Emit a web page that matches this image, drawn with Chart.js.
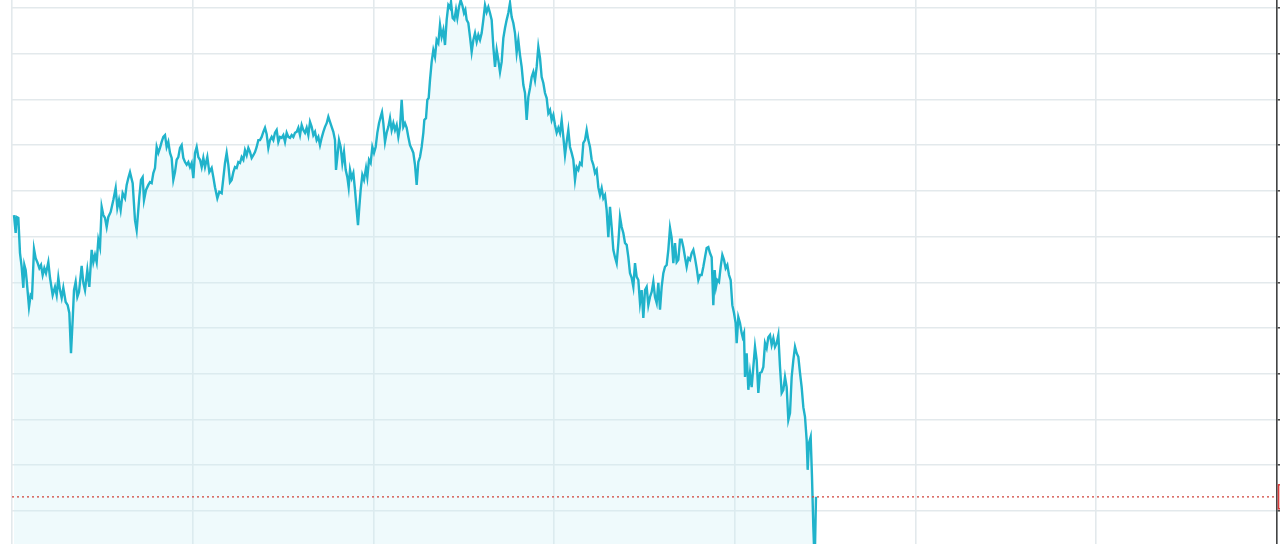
<!DOCTYPE html>
<html>
<head>
<meta charset="utf-8">
<script src="https://cdn.jsdelivr.net/npm/chart.js@4.4.1/dist/chart.umd.min.js"></script>
<style>
  html, body { margin: 0; padding: 0; background: #ffffff; overflow: hidden; }
  #wrap { position: relative; width: 1280px; height: 544px; }
</style>
</head>
<body>
<div id="wrap"><canvas id="c" width="1280" height="544"></canvas></div>
<script>
// ---- data ----
const days = [
1.2,2.2,2.8,3.8,4.8,5.8,6.8,7.4,8.2,8.8,
10.2,11.2,12.0,13.2,14.2,15.2,16.4,17.4,18.4,19.4,
20.4,21.8,22.8,24.4,25.8,26.8,27.8,28.8,29.8,30.8,
32.2,33.4,34.4,35.4,36.4,37.2,38.2,39.2,40.2,41.8,
42.8,43.8,45.2,46.4,47.8,48.8,49.8,50.8,51.8,52.8,
53.8,54.8,55.8,56.8,57.8,59.2,60.8,62.2,63.2,64.2,
65.2,66.4,67.8,68.8,69.8,70.8,72.4,73.8,74.8,76.4,
77.4,78.4,79.2,80.4,81.8,82.8,83.8,84.8,85.8,86.8,
87.8,88.8,89.8,90.8,91.8,92.8,93.8,94.8,95.8,96.8,
97.8,98.8,99.8,100.8,101.8,102.8,103.8,104.8,105.8,106.8,
107.8,108.8,109.8,110.8,111.8,112.8,113.8,114.8,115.8,117.2,
118.4,119.8,120.8,121.8,123.2,124.4,125.8,126.8,127.8,128.8,
129.8,130.8,131.8,132.8,133.8,134.8,135.8,136.8,137.8,138.8,
139.8,140.8,141.8,142.8,143.8,144.8,145.8,146.8,147.8,148.8,
149.8,150.8,151.8,152.8,153.8,154.8,155.8,156.8,157.8,158.8,
159.8,160.8,161.8,162.8,163.8,164.8,165.8,166.8,167.8,168.8,
169.8,170.8,171.8,172.8,173.8,174.8,175.8,176.8,177.8,178.8,
179.8,180.8,181.8,182.8,183.8,184.8,185.8,186.8,187.8,188.8,
189.8,190.8,191.8,192.8,193.8,194.4,195.2,196.2,197.2,198.2,
199.2,200.2,201.2,202.0,202.8,203.8,204.8,205.8,206.8,207.6,
208.4,209.2,210.2,211.2,212.4,213.2,214.2,215.2,216.2,217.2,
218.2,219.2,220.2,221.2,222.0,222.8,223.8,224.8,225.8,226.8,
227.8,228.8,229.8,230.8,231.8,232.8,233.8,234.8,235.8,236.8,
237.8,238.8,239.8,240.8,241.8,242.8,243.8,244.8,245.8,246.8,
247.4,248.4,249.2,250.0,250.8,251.8,252.8,253.8,254.8,255.8,
256.8,257.8,258.8,259.8,260.8,261.8,262.8,263.4,264.4,265.4,
266.4,267.2,268.2,269.2,270.2,271.2,272.0,272.8,273.8,274.8,
275.8,276.8,277.8,278.8,279.8,280.8,281.8,282.8,283.8,284.8,
285.8,286.8,287.8,288.8,289.8,290.8,291.8,292.8,293.8,294.8,
295.8,296.8,297.8,298.8,299.8,300.8,301.8,302.8,303.8,304.8,
305.8,306.8,307.8,308.8,309.8,310.8,311.8,312.8,313.8,314.8,
315.8,316.8,317.8,318.8,319.8,320.8,321.8,322.8,323.8,324.8,
325.8,326.8,327.8,328.8,329.8,330.8,331.8,332.8,333.8,334.8,
335.8,336.8,337.8,338.8,339.8,340.8,341.8,342.8,343.8,344.8,
345.8,346.8,347.8,348.8,349.8,350.8,351.8,352.8,353.8,354.8,
355.8,356.8,357.8,358.8,359.8,360.8,361.8,362.8,363.8,364.8,
365.8,366.8,367.8,368.8,369.8,370.8,371.8,372.8,373.8,374.8,
375.8,376.8,377.8,378.8,379.8,380.8,381.8,382.8,383.8,384.8,
385.8,386.8,387.8,388.8,389.8,390.8,391.8,392.8,393.8,394.8,
395.8,396.8,397.8,398.8,399.8,400.8,401.8,402.8,403.8,404.8,
405.8,406.8,407.8,408.8,409.8,410.8,411.8,412.8,413.8,414.8,
415.8,416.8,417.8,418.8,419.8,420.8,421.6,422.4,423.2,424.2,
425.2,426.2,427.2,428.2,429.2,430.2,431.2,432.2,433.2,434.2,
434.8,435.8,436.8,437.8,438.4,439.2,439.8,440.8,441.8,442.8,
443.8,444.8,445.8,446.8,447.8,448.8,449.8,450.8,451.8,452.8,
453.8,454.8,455.8,456.8,457.8,458.8,459.8,460.8,461.8,462.8,
463.8,464.8,465.8,466.8,467.8,468.8,469.8,470.8,471.8,472.8,
473.8,474.8,475.8,476.8,477.4,478.2,479.2,480.0,480.8,481.6,
482.4
];

const values = [
164.7,160.8,164.3,164.1,156.4,153.4,148.8,153.8,152.7,150.5,
144.6,147.2,146.8,157.3,155.3,154.4,153.1,153.8,151.6,153.1,
152.0,154.4,151.0,147.2,149.0,147.2,151.0,148.3,146.6,148.8,
145.7,145.0,143.3,134.5,141.8,148.3,150.1,146.8,147.9,153.6,
149.9,148.3,152.7,149.0,157.1,154.4,156.0,154.4,159.3,157.7,
166.5,164.7,164.1,162.1,164.3,165.4,168.0,170.6,166.3,168.0,
165.8,169.5,168.4,171.3,172.8,174.1,171.7,163.6,161.4,168.7,
172.4,173.0,168.0,170.2,171.3,171.9,171.7,173.9,175.0,179.6,
178.3,179.4,180.7,181.8,182.2,179.6,180.7,178.3,177.2,172.4,
174.1,176.8,177.4,179.4,180.0,177.2,176.3,175.7,176.3,175.2,
176.1,172.8,178.3,179.6,177.4,176.8,175.2,177.2,175.2,177.4,
174.1,175.0,173.0,170.8,168.4,169.8,169.5,172.8,176.1,178.3,
175.7,171.9,172.4,174.1,175.2,175.0,176.3,176.1,177.4,176.8,
178.9,177.8,179.4,178.5,177.2,177.8,178.5,179.6,181.1,181.1,
181.8,182.9,183.8,182.4,179.4,181.1,181.8,181.1,182.7,183.3,
180.7,181.8,181.6,182.2,180.7,182.7,181.8,181.6,182.2,181.8,
182.7,182.9,183.8,182.2,184.4,183.3,182.7,183.8,182.2,185.1,
184.0,182.2,182.9,181.1,181.8,180.0,181.6,182.9,184.0,184.8,
186.2,185.1,184.0,182.9,181.1,174.6,177.4,181.1,179.6,176.1,
178.5,174.6,173.0,170.8,174.6,172.8,173.9,170.2,165.8,162.5,
166.5,170.2,173.5,172.4,175.0,173.0,176.8,176.1,179.6,178.3,
179.6,182.7,184.8,186.2,187.2,184.8,180.7,182.7,184.0,185.9,
183.3,184.8,183.3,184.4,181.8,184.0,189.9,184.0,184.8,183.8,
181.8,180.0,179.2,178.3,175.7,171.3,176.3,177.4,179.6,182.7,
185.5,185.9,189.9,190.3,194.2,198.2,200.8,199.3,203.0,202.3,
206.3,203.7,205.2,201.9,207.4,210.6,210.0,211.3,207.8,207.4,
209.6,207.8,210.2,211.7,210.6,208.9,209.6,207.4,206.7,203.7,
200.4,203.0,204.5,202.6,204.1,203.0,204.5,207.4,210.6,209.1,
210.2,208.9,207.4,201.5,197.1,200.8,198.6,196.0,198.2,203.4,
205.6,207.4,208.9,211.1,208.0,206.7,204.5,200.2,203.0,199.7,
197.1,193.2,191.4,185.5,190.5,192.5,194.9,196.0,194.2,197.1,
201.5,199.1,194.9,193.6,191.4,190.3,187.0,187.7,185.5,186.6,
184.4,182.7,183.8,182.7,185.5,181.8,177.8,180.7,183.3,179.6,
178.3,176.8,172.4,175.2,174.6,176.1,175.7,180.5,181.1,183.3,
181.1,179.6,176.8,175.7,173.9,174.6,170.8,169.1,170.6,168.4,
169.1,165.8,159.9,166.5,162.1,157.1,155.5,154.2,158.6,164.3,
162.1,160.8,158.6,158.2,155.5,152.0,151.0,149.0,154.2,151.2,
150.5,145.5,148.3,142.2,148.3,149.0,145.0,146.8,147.9,150.1,
146.8,145.5,149.9,144.0,149.0,152.0,153.4,153.8,157.1,161.9,
159.7,154.2,158.6,154.4,154.9,159.3,159.3,157.7,155.5,153.4,
155.3,154.9,156.4,157.1,155.3,153.1,150.5,151.6,151.6,153.4,
155.5,157.5,157.7,156.4,155.5,145.0,152.7,149.0,150.5,150.1,
153.4,156.0,154.9,153.1,153.8,151.6,150.5,145.0,143.3,141.1,
136.7,142.4,141.1,138.9,138.0,138.9,129.3,134.5,126.5,130.2,
127.1,131.5,135.9,133.0,125.8,130.2,130.4,131.5,136.7,135.6,
138.0,138.5,136.3,137.8,135.9,136.7,138.5,131.5,125.8,126.5,
129.3,127.1,119.9,121.4,129.3,133.0,135.9,134.5,133.7,130.2,
127.1,122.7,120.6,115.5,109.0,114.9,116.2,107.4,96.5,88.2,
103.1
];

const lastClose = 103.1;
const xGridDays = [0, 108.4, 216.8, 325.2, 433.6, 542.0, 650.4, 758.8];
const yGridValues = [100, 110, 120, 130, 140, 150, 160, 170, 180, 190, 200, 210];
const xRange = [0, 759];
const yRange = [92.78, 211.74];

// ---- build chart ----
const seriesPoints = days.map((d, i) => ({ x: d, y: values[i] }));
const closePoints = [{ x: xRange[0], y: lastClose }, { x: xRange[1], y: lastClose }];

const closeMarker = {
  id: 'closeMarker',
  afterDraw(chart) {
    const ctx = chart.ctx;
    const y = chart.scales.y.getPixelForValue(lastClose);
    const x0 = chart.chartArea.right + 1.5;
    ctx.save();
    ctx.fillStyle = '#fbe9e9';
    ctx.strokeStyle = '#d93a3a';
    ctx.lineWidth = 1.5;
    ctx.fillRect(x0, y - 12, 40, 24);
    ctx.strokeRect(x0, y - 12, 40, 24);
    ctx.restore();
  }
};

new Chart(document.getElementById('c'), {
  type: 'line',
  data: {
    datasets: [
      {
        data: closePoints,
        borderColor: '#d2413a',
        borderWidth: 1.2,
        borderDash: [2, 3],
        pointRadius: 0,
        fill: false,
        order: 0
      },
      {
        data: seriesPoints,
        borderColor: '#20b3cb',
        borderWidth: 2.4,
        backgroundColor: 'rgba(205, 238, 246, 0.32)',
        fill: 'start',
        pointRadius: 0,
        tension: 0,
        order: 1
      }
    ]
  },
  options: {
    responsive: false,
    animation: false,
    devicePixelRatio: 1,
    layout: { padding: { left: 12, right: 0, top: 0, bottom: 0 } },
    plugins: { legend: { display: false }, tooltip: { enabled: false } },
    scales: {
      x: {
        type: 'linear',
        min: xRange[0],
        max: xRange[1],
        afterBuildTicks: (s) => { s.ticks = xGridDays.map(v => ({ value: v })); },
        ticks: { display: false },
        grid: { color: '#e3e9ec', lineWidth: 1.6, drawTicks: false },
        border: { display: false }
      },
      y: {
        type: 'linear',
        position: 'right',
        min: yRange[0],
        max: yRange[1],
        afterBuildTicks: (s) => { s.ticks = yGridValues.map(v => ({ value: v })); },
        ticks: { display: false },
        grid: { color: '#e3e9ec', lineWidth: 1.6, drawTicks: true, tickLength: 3, tickColor: '#444', tickWidth: 1.5 },
        border: { display: true, color: '#444', width: 1.6 }
      }
    }
  },
  plugins: [closeMarker]
});
</script>
</body>
</html>
